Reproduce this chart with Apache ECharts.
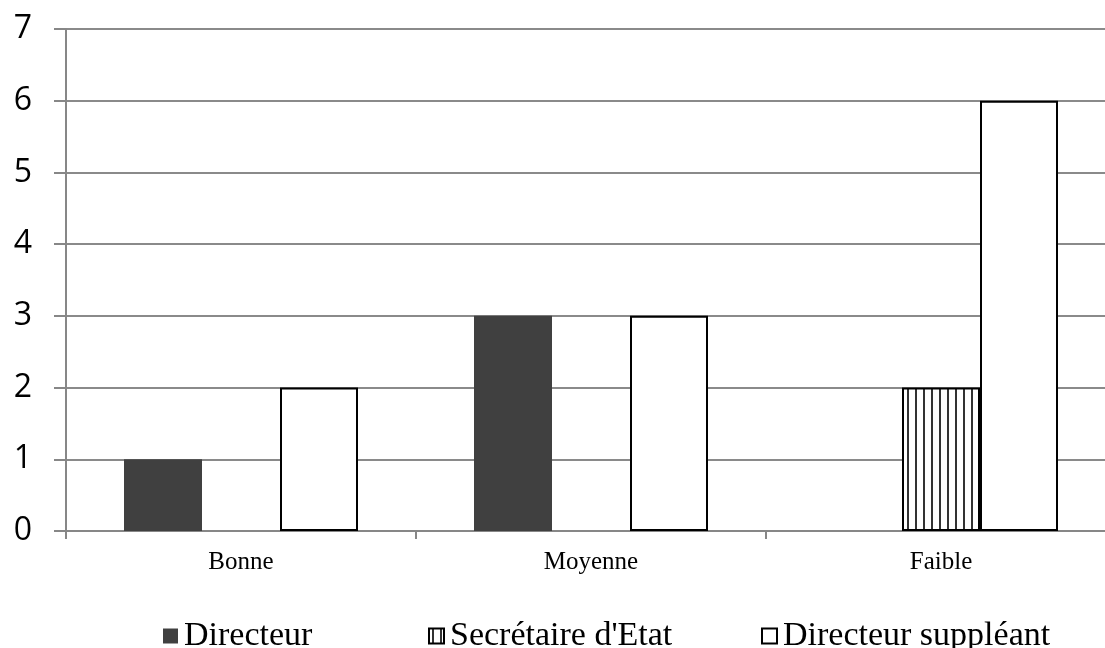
<!DOCTYPE html>
<html>
<head>
<meta charset="utf-8">
<script src="https://cdn.jsdelivr.net/npm/echarts@6/dist/echarts.min.js"></script>
<style>
  html, body { margin: 0; padding: 0; background: #fff; }
  #chart { width: 1105px; height: 648px; }
</style>
</head>
<body>
<div id="chart"></div>
<script>
// Niveau d'appréciation par fonction
const categories = ['Bonne', 'Moyenne', 'Faible'];
const directeur = [1, 3, 0];
const secretaireEtat = [0, 0, 2];
const directeurSuppleant = [2, 3, 6];
const yTicks = [0, 1, 2, 3, 4, 5, 6, 7];

// Vertical hatching for the "Secrétaire d'Etat" series
function makeStripes() {
  const c = document.createElement('canvas');
  c.width = 8; c.height = 8;
  const ctx = c.getContext('2d');
  ctx.fillStyle = '#ffffff';
  ctx.fillRect(0, 0, 8, 8);
  ctx.fillStyle = '#333333';
  ctx.fillRect(3, 0, 2, 8);
  return c;
}
const stripes = { image: makeStripes(), repeat: 'repeat' };

// Zero-height bars carry no outline
function toData(arr) {
  return arr.map(v => v === 0 ? { value: v, itemStyle: { borderWidth: 0 } } : v);
}

const legendText = { fontFamily: '"Liberation Serif", "Times New Roman", serif', fontSize: 34, color: '#000', padding: [0, 0, 0, 1] };
function legendFor(name, left) {
  return {
    data: [name], left: left, top: 614, icon: 'rect', itemWidth: 15, itemHeight: 15, itemGap: 0,
    textStyle: legendText, selectedMode: false
  };
}

const chart = echarts.init(document.getElementById('chart'));
chart.setOption({
  animation: false,
  backgroundColor: '#ffffff',
  grid: { left: 66, top: 29, width: 1050, height: 502, outerBoundsMode: 'none', containLabel: false },
  legend: [
    legendFor('Directeur', 158),
    legendFor("Secrétaire d'Etat", 423),
    legendFor('Directeur suppléant', 756)
  ],
  xAxis: {
    type: 'category',
    data: categories,
    boundaryGap: true,
    axisLine: { lineStyle: { color: '#878787', width: 2 } },
    axisTick: { show: true, length: 8, lineStyle: { color: '#878787', width: 2 } },
    axisLabel: { fontFamily: '"Liberation Serif", "Times New Roman", serif', fontSize: 25, color: '#000', margin: 19 }
  },
  yAxis: {
    type: 'value',
    min: yTicks[0],
    max: yTicks[yTicks.length - 1],
    interval: 1,
    axisLine: { show: true, lineStyle: { color: '#878787', width: 2 } },
    axisTick: { show: true, length: 12, lineStyle: { color: '#878787', width: 2 } },
    splitLine: { lineStyle: { color: '#8a8a8a', width: 2 } },
    axisLabel: { fontFamily: '"Open Sans", sans-serif', fontSize: 32, color: '#000', margin: 34 }
  },
  series: [
    {
      name: 'Directeur', type: 'bar', data: toData(directeur),
      barWidth: 78, barGap: '0%',
      itemStyle: { color: '#404040', borderWidth: 0 }
    },
    {
      name: "Secrétaire d'Etat", type: 'bar', data: toData(secretaireEtat),
      barWidth: 78, barGap: '0%',
      itemStyle: { color: stripes, borderColor: '#000', borderWidth: 2 }
    },
    {
      name: 'Directeur suppléant', type: 'bar', data: toData(directeurSuppleant),
      barWidth: 78, barGap: '0%',
      itemStyle: { color: '#ffffff', borderColor: '#000', borderWidth: 2 }
    }
  ]
});
</script>
</body>
</html>
